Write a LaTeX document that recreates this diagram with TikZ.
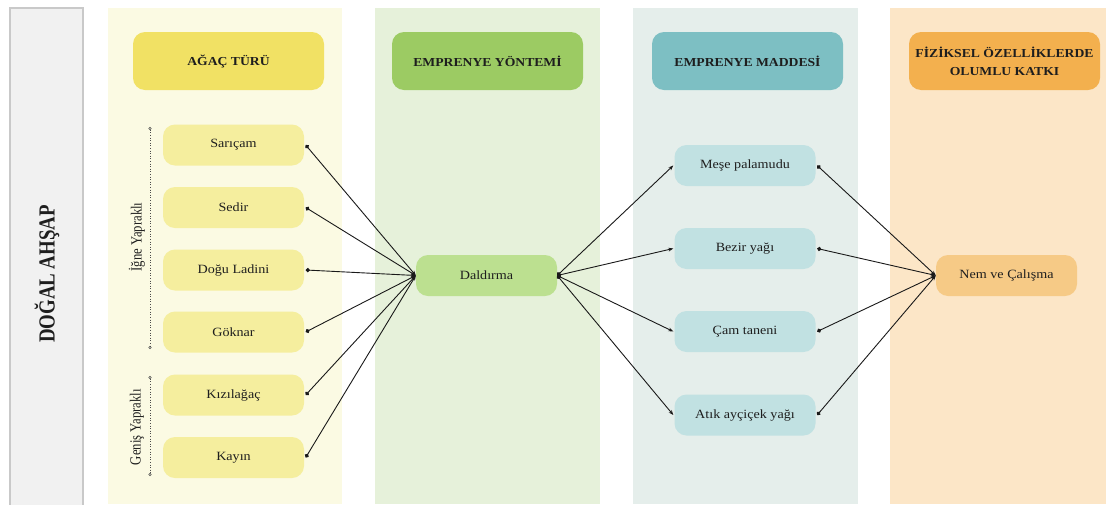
\documentclass[tikz,border=0pt]{standalone}
\usepackage{fontspec}
\setmainfont{Liberation Serif}
\newfontfamily\widefont{Liberation Serif}[FakeStretch=1.12]
\newfontfamily\rotfont{Liberation Serif}[FakeStretch=0.82]
\usetikzlibrary{arrows.meta}

\definecolor{sidefill}{HTML}{F1F1F1}
\definecolor{sideline}{HTML}{C9C9C9}
\definecolor{bgY}{HTML}{FBFAE3}
\definecolor{bgG}{HTML}{E6F1DA}
\definecolor{bgT}{HTML}{E5EEEB}
\definecolor{bgO}{HTML}{FCE6C7}
\definecolor{hdY}{HTML}{F1E164}
\definecolor{hdG}{HTML}{9CCB63}
\definecolor{hdT}{HTML}{7DBFC3}
\definecolor{hdO}{HTML}{F3B04E}
\definecolor{itY}{HTML}{F5EE9E}
\definecolor{itG}{HTML}{BCE090}
\definecolor{itT}{HTML}{C1E1E2}
\definecolor{itO}{HTML}{F6CA86}
\definecolor{ink}{HTML}{1E1E1E}

\tikzset{
  header/.style={rounded corners=12pt, minimum width=191pt, minimum height=58pt,
    inner sep=0pt, align=center, text=ink,
    font=\widefont\bfseries\fontsize{12.2}{18}\selectfont},
  item/.style={rounded corners=12pt, minimum width=141pt, minimum height=41pt,
    inner sep=0pt, text=ink, font=\widefont\fontsize{12.6}{14}\selectfont},
  conn/.style={draw=black!90, line width=0.9pt,
    {Circle[length=4.2pt]}-{Stealth[length=5pt,width=3.8pt]}},
  groupline/.style={draw=black!70, line width=0.6pt, dotted,
    {Circle[open,length=3pt,line width=0.6pt]}-{Circle[open,length=3pt,line width=0.6pt]}},
  grouplabel/.style={rotate=90, text=ink, font=\rotfont\fontsize{15.5}{18}\selectfont}
}

\begin{document}
\begin{tikzpicture}[x=1pt,y=-1pt]
\useasboundingbox (0,0) rectangle (1106,504);

% side panel with the overall title
\draw[fill=sidefill, draw=sideline, line width=2pt] (10,8) rectangle (83,512);
\node[rotate=90, text=ink, font=\rotfont\bfseries\fontsize{23}{26}\selectfont]
  (title) at (47,274) {DOĞAL AHŞAP};

% column backgrounds
\fill[bgY] (108,8) rectangle (342,504);
\fill[bgG] (375,8) rectangle (600,504);
\fill[bgT] (633,8) rectangle (858,504);
\fill[bgO] (890,8) rectangle (1106,504);

% column headers
\node[header, fill=hdY] (h1) at (228.5,61) {AĞAÇ TÜRÜ};
\node[header, fill=hdG] (h2) at (487.5,61) {EMPRENYE YÖNTEMİ};
\node[header, fill=hdT] (h3) at (747.5,61) {EMPRENYE MADDESİ};
\node[header, fill=hdO] (h4) at (1004.5,61) {FİZİKSEL ÖZELLİKLERDE\\OLUMLU KATKI};

% wood species
\node[item, fill=itY] (s1) at (233.5,145)   {Sarıçam};
\node[item, fill=itY] (s2) at (233.5,207.5) {Sedir};
\node[item, fill=itY] (s3) at (233.5,270)   {Doğu Ladini};
\node[item, fill=itY] (s4) at (233.5,332)   {Göknar};
\node[item, fill=itY] (s5) at (233.5,395)   {Kızılağaç};
\node[item, fill=itY] (s6) at (233.5,457.5) {Kayın};

% species groups
\coordinate (g1a) at (150,127);
\coordinate (g1b) at (150,349);
\coordinate (g2a) at (150,376);
\coordinate (g2b) at (150,476);
\draw[groupline] (g1a) -- (g1b);
\draw[groupline] (g2a) -- (g2b);
\node[grouplabel] (l1) at (137,237) {İğne Yapraklı};
\node[grouplabel] (l2) at (137,427) {Geniş Yapraklı};

% method
\node[item, fill=itG] (dal) at (486.5,275.5) {Daldırma};

% impregnating substances
\node[item, fill=itT] (m1) at (745,165.5) {Meşe palamudu};
\node[item, fill=itT] (m2) at (745,248.5) {Bezir yağı};
\node[item, fill=itT] (m3) at (745,331.5) {Çam taneni};
\node[item, fill=itT] (m4) at (745,415)   {Atık ayçiçek yağı};

% result
\node[item, fill=itO] (nem) at (1006.5,275.5) {Nem ve Çalışma};

% connectors
\foreach \s in {s1,s2,s3,s4,s5,s6}
  \draw[conn] ([xshift=1.5pt]\s.east) -- (dal.west);
\foreach \m in {m1,m2,m3,m4}
  \draw[conn] (dal.east) -- ([xshift=-1pt]\m.west);
\foreach \m in {m1,m2,m3,m4}
  \draw[conn] ([xshift=1.5pt]\m.east) -- (nem.west);
\end{tikzpicture}
\end{document}
